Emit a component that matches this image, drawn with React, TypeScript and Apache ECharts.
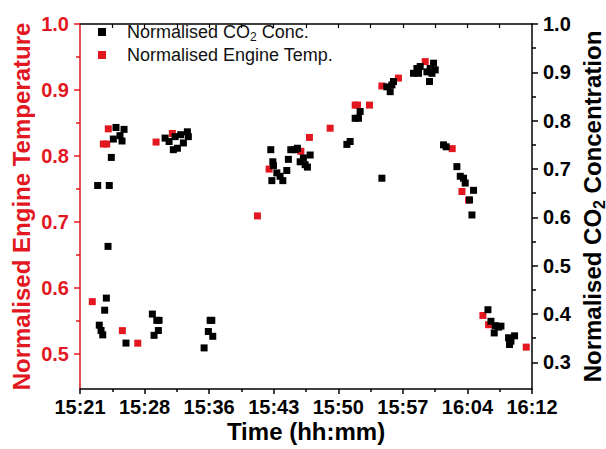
import { useEffect, useRef } from "react";
import * as echarts from "echarts";

// Time is in minutes after 15:00
const xTickLabels = ["15:21", "15:28", "15:36", "15:43", "15:50", "15:57", "16:04", "16:12"];
const xMin = 21.4;
const xMax = 72.5;

const leftMin = 0.4465;
const leftMax = 1.0;
const leftTicks = [0.5, 0.6, 0.7, 0.8, 0.9, 1.0];
const leftMinorTicks = [0.55, 0.65, 0.75, 0.85, 0.95];

const rightMin = 0.245;
const rightMax = 1.0;
const rightTicks = [0.3, 0.4, 0.5, 0.6, 0.7, 0.8, 0.9, 1.0];
const rightMinorTicks = [0.35, 0.45, 0.55, 0.65, 0.75, 0.85, 0.95];

const tempTime = [22.79, 24.04, 24.42, 24.6, 26.19, 27.93, 30.0, 31.84, 41.46, 42.78, 46.37, 47.34, 49.68, 52.51, 52.77, 54.13, 55.53, 57.4, 60.43, 63.48, 64.58, 65.33, 66.95, 67.59, 71.85];
const tempValue = [0.579, 0.818, 0.818, 0.841, 0.535, 0.516, 0.821, 0.834, 0.709, 0.78, 0.807, 0.828, 0.842, 0.877, 0.877, 0.877, 0.906, 0.918, 0.943, 0.811, 0.746, 0.733, 0.558, 0.544, 0.51];

const co2Time = [
  23.4, 24.71, 24.94, 24.57, 24.38, 24.19, 23.58, 23.78, 23.97, 25.47, 26.38, 25.17, 25.92, 26.15, 26.6,
  29.58, 30.08, 30.34, 30.26, 29.77, 31.02, 31.47, 32.15, 31.95, 32.41, 33.09, 33.54, 33.65, 32.79,
  35.43, 35.91, 36.11, 36.3, 36.41,
  42.97, 43.2, 43.27, 43.09, 43.65, 44.02, 44.33, 44.78, 44.96, 45.23, 45.72, 45.98, 46.29, 46.85, 47.11, 47.42, 46.66,
  51.57, 51.94, 52.51, 52.88, 53.07, 55.53, 56.08, 56.47, 56.66, 56.84,
  59.1, 59.49, 59.67, 59.86, 60.62, 60.99, 61.37, 61.56, 61.19, 60.91,
  62.5, 62.8, 64.01, 64.39, 64.76, 64.95, 65.89, 65.44, 65.71,
  67.52, 67.86, 68.35, 68.72, 68.99, 68.23, 69.85, 70.53, 69.96, 70.12,
];
const co2Value = [
  0.666, 0.666, 0.724, 0.54, 0.433, 0.408, 0.377, 0.366, 0.357, 0.786, 0.782, 0.762, 0.769, 0.758, 0.34,
  0.4, 0.387, 0.387, 0.366, 0.356, 0.764, 0.757, 0.767, 0.74, 0.743, 0.754, 0.777, 0.767, 0.771,
  0.33, 0.364, 0.387, 0.387, 0.354,
  0.74, 0.715, 0.707, 0.676, 0.692, 0.685, 0.676, 0.697, 0.72, 0.74, 0.74, 0.743, 0.715, 0.709, 0.704, 0.729, 0.723,
  0.751, 0.757, 0.805, 0.805, 0.819, 0.681, 0.87, 0.86, 0.874, 0.881,
  0.898, 0.908, 0.898, 0.912, 0.901, 0.908, 0.919, 0.905, 0.898, 0.881,
  0.75, 0.746, 0.705, 0.685, 0.681, 0.671, 0.656, 0.636, 0.605,
  0.409, 0.385, 0.376, 0.373, 0.375, 0.361, 0.351, 0.355, 0.337, 0.344,
];

const RED = "#e3171f";
const FONT = "'Liberation Sans', Arial, sans-serif";

export default function App() {
  const ref = useRef<HTMLDivElement>(null);
  useEffect(() => {
    if (!ref.current) return;
    const chart = echarts.init(ref.current, undefined, { renderer: "svg" });
    const step = (xMax - xMin) / (xTickLabels.length - 1);
    const xMajor = xTickLabels.map((_, i) => Number((xMin + i * step).toFixed(4)));
    const xMinor = xTickLabels.slice(1).map((_, i) => Number((xMin + (i + 0.5) * step).toFixed(4)));
    const xAll = [...xMajor, ...xMinor].filter((v) => v > xMin && v < xMax);
    const tempData = tempTime.map((t, i) => [t, tempValue[i]]);
    const co2Data = co2Time.map((t, i) => [t, co2Value[i]]);

    const tickFont = { fontSize: 20, fontWeight: "bold" as const, fontFamily: FONT, lineHeight: 18 };

    chart.setOption({
      animation: false,
      backgroundColor: "#fff",
      textStyle: { fontFamily: FONT },
      grid: { left: 80, right: 74, top: 24, bottom: 60, containLabel: false, outerBoundsMode: "none" },
      legend: {
        data: ["co2", "temp"],
        orient: "vertical",
        left: 98,
        top: 23,
        padding: 0,
        itemGap: 3,
        itemWidth: 8,
        itemHeight: 8,
        icon: "rect",
        formatter: (name: string) =>
          name === "co2" ? "{n|Normalised CO}{s|2}{n| Conc.}" : "{n|Normalised Engine Temp.}",
        textStyle: {
          fontSize: 18,
          color: "#111",
          padding: [0, 0, 0, 16],
          rich: {
            n: { fontSize: 18, fontFamily: FONT, color: "#111", lineHeight: 21 },
            s: { fontSize: 12, fontFamily: FONT, color: "#111", padding: [10, 0, 0, 0] },
          },
        },
      },
      xAxis: [
        {
          type: "value",
          position: "bottom",
          min: xMin,
          max: xMax,
          axisLine: { show: true, onZero: false, lineStyle: { color: "#000", width: 1.5 } },
          axisTick: { show: true, customValues: xMajor, length: 5, lineStyle: { color: "#000", width: 1.5 } },
          axisLabel: {
            customValues: xMajor,
            color: "#000",
            margin: 9,
            ...tickFont,
            formatter: (v: number) => xTickLabels[Math.round((v - xMin) / step)] ?? "",
          },
          splitLine: { show: false },
          name: "Time (hh:mm)",
          nameLocation: "middle",
          nameGap: 31,
          nameMoveOverlap: false,
          nameTextStyle: { color: "#000", fontSize: 24, lineHeight: 22, fontWeight: "bold", fontFamily: FONT },
        },
        {
          type: "value",
          position: "bottom",
          min: xMin,
          max: xMax,
          axisLine: { show: false, onZero: false },
          axisTick: { show: true, customValues: xMinor, length: 3, lineStyle: { color: "#000", width: 1.5 } },
          axisLabel: { show: false },
          splitLine: { show: false },
        },
        {
          type: "value",
          position: "top",
          min: xMin,
          max: xMax,
          axisLine: { show: true, onZero: false, lineStyle: { color: "#000", width: 1.5 } },
          axisTick: { show: true, inside: true, customValues: xAll, length: 4, lineStyle: { color: "#000", width: 1.2 } },
          axisLabel: { show: false },
          splitLine: { show: false },
        },
      ],
      yAxis: [
        {
          type: "value",
          position: "left",
          min: leftMin,
          max: leftMax,
          axisLine: { show: true, onZero: false, lineStyle: { color: RED, width: 1.5 } },
          axisTick: { show: true, customValues: leftTicks, length: 6, lineStyle: { color: RED, width: 1.5 } },
          axisLabel: {
            customValues: leftTicks,
            color: RED,
            margin: 11,
            ...tickFont,
            formatter: (v: number) => v.toFixed(1),
          },
          splitLine: { show: false },
          name: "Normalised Engine Temperature",
          nameLocation: "middle",
          nameGap: 47,
          nameMoveOverlap: false,
          nameTextStyle: { color: RED, fontSize: 24, fontWeight: "bold", fontFamily: FONT },
        },
        {
          type: "value",
          position: "left",
          min: leftMin,
          max: leftMax,
          axisLine: { show: false, onZero: false },
          axisTick: { show: true, customValues: leftMinorTicks, length: 4, lineStyle: { color: RED, width: 1.5 } },
          axisLabel: { show: false },
          splitLine: { show: false },
        },
        {
          type: "value",
          position: "right",
          min: rightMin,
          max: rightMax,
          axisLine: { show: true, onZero: false, lineStyle: { color: "#000", width: 1.5 } },
          axisTick: { show: true, customValues: rightTicks, length: 6, lineStyle: { color: "#000", width: 1.5 } },
          axisLabel: {
            customValues: rightTicks,
            color: "#000",
            margin: 11,
            ...tickFont,
            formatter: (v: number) => v.toFixed(1),
          },
          splitLine: { show: false },
          name: "{n|Normalised CO}{s|2}{n| Concentration}",
          nameLocation: "middle",
          nameGap: 45,
          nameMoveOverlap: false,
          nameTextStyle: {
            color: "#000",
            fontSize: 24,
            fontWeight: "bold",
            fontFamily: FONT,
            rich: {
              n: { fontSize: 24, fontWeight: "bold", fontFamily: FONT, color: "#000", lineHeight: 28 },
              s: { fontSize: 16, fontWeight: "bold", fontFamily: FONT, color: "#000", padding: [14, 0, 0, 0] },
            },
          },
        },
        {
          type: "value",
          position: "right",
          min: rightMin,
          max: rightMax,
          axisLine: { show: false, onZero: false },
          axisTick: { show: true, customValues: rightMinorTicks, length: 4, lineStyle: { color: "#000", width: 1.5 } },
          axisLabel: { show: false },
          splitLine: { show: false },
        },
      ],
      series: [
        {
          type: "scatter",
          name: "temp",
          xAxisIndex: 0,
          yAxisIndex: 0,
          symbol: "rect",
          symbolSize: 7,
          itemStyle: { color: RED, opacity: 1 },
          data: tempData,
        },
        {
          type: "scatter",
          name: "co2",
          xAxisIndex: 0,
          yAxisIndex: 2,
          symbol: "rect",
          symbolSize: 7,
          itemStyle: { color: "#000", opacity: 1 },
          data: co2Data,
        },
      ],
    });
    return () => chart.dispose();
  }, []);
  return (
    <div
      ref={ref}
      style={{ position: "fixed", left: 0, top: 0, width: 606, height: 449, background: "#fff" }}
    />
  );
}
